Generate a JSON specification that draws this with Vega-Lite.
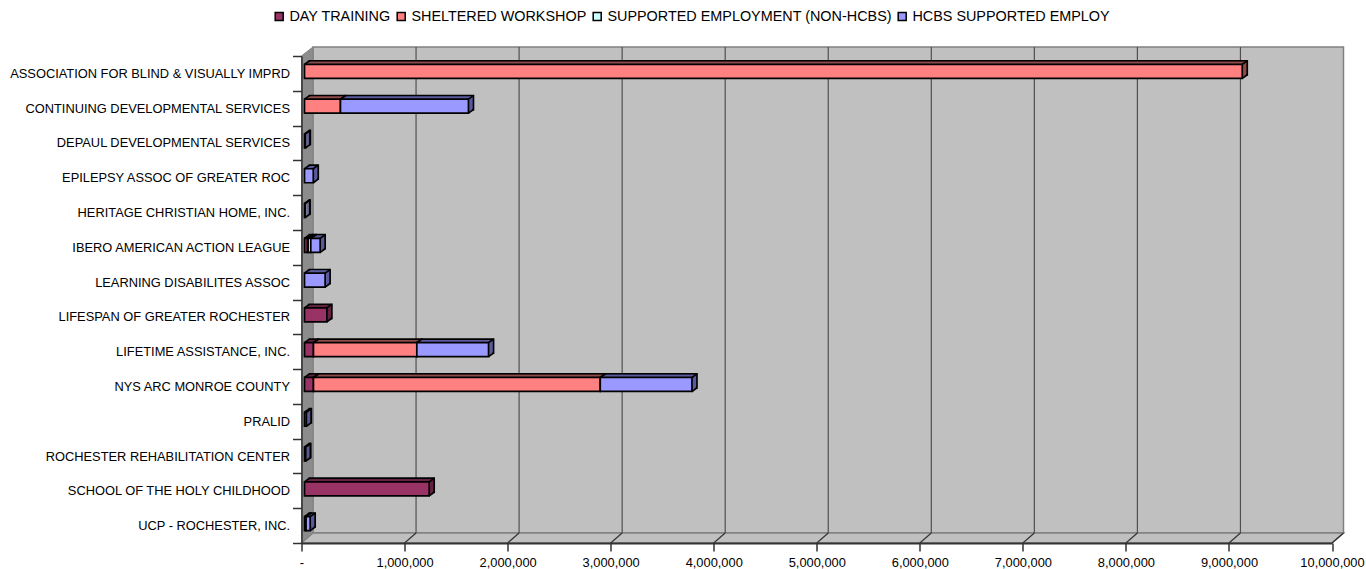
{
"$schema":"https://vega.github.io/schema/vega-lite/v6.json",
"width":1030.5,"height":487,
"autosize":"none",
"padding":{"left":301.5,"top":56,"right":34,"bottom":26},
"background":"white",
"config":{"view":{"stroke":null},"text":{"font":"Liberation Sans"}},
"data":{"values":[
{"name":"ASSOCIATION FOR BLIND & VISUALLY IMPRD","series":"SHELTERED WORKSHOP","rank":2,"value":9100000},
{"name":"CONTINUING DEVELOPMENTAL SERVICES","series":"SHELTERED WORKSHOP","rank":2,"value":349000},
{"name":"CONTINUING DEVELOPMENTAL SERVICES","series":"HCBS SUPPORTED EMPLOY","rank":4,"value":1242000},
{"name":"DEPAUL DEVELOPMENTAL SERVICES","series":"HCBS SUPPORTED EMPLOY","rank":4,"value":8000},
{"name":"EPILEPSY ASSOC OF GREATER ROC","series":"HCBS SUPPORTED EMPLOY","rank":4,"value":85000},
{"name":"HERITAGE CHRISTIAN HOME, INC.","series":"HCBS SUPPORTED EMPLOY","rank":4,"value":6000},
{"name":"IBERO AMERICAN ACTION LEAGUE","series":"DAY TRAINING","rank":1,"value":30000},
{"name":"IBERO AMERICAN ACTION LEAGUE","series":"SHELTERED WORKSHOP","rank":2,"value":6000},
{"name":"IBERO AMERICAN ACTION LEAGUE","series":"SUPPORTED EMPLOYMENT (NON-HCBS)","rank":3,"value":25000},
{"name":"IBERO AMERICAN ACTION LEAGUE","series":"HCBS SUPPORTED EMPLOY","rank":4,"value":91000},
{"name":"LEARNING DISABILITES ASSOC","series":"HCBS SUPPORTED EMPLOY","rank":4,"value":200000},
{"name":"LIFESPAN OF GREATER ROCHESTER","series":"DAY TRAINING","rank":1,"value":217000},
{"name":"LIFETIME ASSISTANCE, INC.","series":"DAY TRAINING","rank":1,"value":87000},
{"name":"LIFETIME ASSISTANCE, INC.","series":"SHELTERED WORKSHOP","rank":2,"value":1003000},
{"name":"LIFETIME ASSISTANCE, INC.","series":"HCBS SUPPORTED EMPLOY","rank":4,"value":696000},
{"name":"NYS ARC MONROE COUNTY","series":"DAY TRAINING","rank":1,"value":87000},
{"name":"NYS ARC MONROE COUNTY","series":"SHELTERED WORKSHOP","rank":2,"value":2783000},
{"name":"NYS ARC MONROE COUNTY","series":"HCBS SUPPORTED EMPLOY","rank":4,"value":890000},
{"name":"PRALID","series":"HCBS SUPPORTED EMPLOY","rank":4,"value":18000},
{"name":"ROCHESTER REHABILITATION CENTER","series":"HCBS SUPPORTED EMPLOY","rank":4,"value":12000},
{"name":"SCHOOL OF THE HOLY CHILDHOOD","series":"DAY TRAINING","rank":1,"value":1210000},
{"name":"UCP - ROCHESTER, INC.","series":"SUPPORTED EMPLOYMENT (NON-HCBS)","rank":3,"value":15000},
{"name":"UCP - ROCHESTER, INC.","series":"HCBS SUPPORTED EMPLOY","rank":4,"value":40000}
]},
"transform":[{"stack":"value","groupby":["name"],"sort":[{"field":"rank","order":"ascending"}],"as":["x0","x1"]}],
"encoding":{
"y":{"field":"name","type":"nominal","sort":null,"title":null,
"scale":{"type":"band","paddingInner":0,"paddingOuter":0,"domain":["ASSOCIATION FOR BLIND & VISUALLY IMPRD","CONTINUING DEVELOPMENTAL SERVICES","DEPAUL DEVELOPMENTAL SERVICES","EPILEPSY ASSOC OF GREATER ROC","HERITAGE CHRISTIAN HOME, INC.","IBERO AMERICAN ACTION LEAGUE","LEARNING DISABILITES ASSOC","LIFESPAN OF GREATER ROCHESTER","LIFETIME ASSISTANCE, INC.","NYS ARC MONROE COUNTY","PRALID","ROCHESTER REHABILITATION CENTER","SCHOOL OF THE HOLY CHILDHOOD","UCP - ROCHESTER, INC."]},
"axis":{"zindex":1,"tickBand":"extent","tickSize":9,"tickColor":"#333333","tickWidth":1.5,"domainColor":"#333333","domainWidth":1.5,"labelFont":"Liberation Sans","labelFontSize":12.85,"labelColor":"#000000","labelPadding":3,"labelLimit":320}},
"x":{"field":"x0","type":"quantitative","title":null,
"scale":{"domain":[0,10000000],"nice":false,"zero":false},
"axis":{"zindex":1,"values":[0,1000000,2000000,3000000,4000000,5000000,6000000,7000000,8000000,9000000,10000000],"grid":false,"tickSize":8,"tickColor":"#333333","tickWidth":1.5,"domainColor":"#333333","domainWidth":2,"labelFont":"Liberation Sans","labelFontSize":12.85,"labelColor":"#000000","labelPadding":5,"labelFlush":false,"labelOverlap":false,"labelExpr":"datum.value==0?'-':format(datum.value,',')"}},
"x2":{"field":"x1"}
},
"resolve":{"scale":{"fill":"independent"},"legend":{"color":"independent","fill":"independent"}},
"layer":[
{"data":{"values":[{"v":0,"c":"UCP - ROCHESTER, INC."}]},"mark":{"type":"point","shape":"M11.5,7.35L11.5,-478.65L1042,-478.65L1042,7.35Z","size":4,"filled":true,"fill":"#c0c0c0","stroke":"#808080","strokeWidth":1.5,"opacity":1},
"encoding":{"x":{"field":"v","type":"quantitative"},"x2":null,"y":{"field":"c","type":"nominal"}}},
{"data":{"values":[{"v":0,"c":"UCP - ROCHESTER, INC."}]},"mark":{"type":"point","shape":"M0,17.35L1030.5,17.35L1042,7.35L11.5,7.35Z","size":4,"filled":true,"fill":"#c0c0c0","stroke":"#808080","strokeWidth":1.5,"opacity":1},
"encoding":{"x":{"field":"v","type":"quantitative"},"x2":null,"y":{"field":"c","type":"nominal"}}},
{"data":{"values":[{"v":1000000,"c":"UCP - ROCHESTER, INC."},{"v":2000000,"c":"UCP - ROCHESTER, INC."},{"v":3000000,"c":"UCP - ROCHESTER, INC."},{"v":4000000,"c":"UCP - ROCHESTER, INC."},{"v":5000000,"c":"UCP - ROCHESTER, INC."},{"v":6000000,"c":"UCP - ROCHESTER, INC."},{"v":7000000,"c":"UCP - ROCHESTER, INC."},{"v":8000000,"c":"UCP - ROCHESTER, INC."},{"v":9000000,"c":"UCP - ROCHESTER, INC."}]},"mark":{"type":"point","shape":"M11.5,7.35L11.5,-478.65","size":4,"filled":false,"stroke":"#505050","strokeWidth":1.2,"opacity":1},
"encoding":{"x":{"field":"v","type":"quantitative"},"x2":null,"y":{"field":"c","type":"nominal"}}},
{"data":{"values":[{"v":1000000,"c":"UCP - ROCHESTER, INC."},{"v":2000000,"c":"UCP - ROCHESTER, INC."},{"v":3000000,"c":"UCP - ROCHESTER, INC."},{"v":4000000,"c":"UCP - ROCHESTER, INC."},{"v":5000000,"c":"UCP - ROCHESTER, INC."},{"v":6000000,"c":"UCP - ROCHESTER, INC."},{"v":7000000,"c":"UCP - ROCHESTER, INC."},{"v":8000000,"c":"UCP - ROCHESTER, INC."},{"v":9000000,"c":"UCP - ROCHESTER, INC."},{"v":10000000,"c":"UCP - ROCHESTER, INC."}]},"mark":{"type":"point","shape":"M0,17.35L11.5,7.35","size":4,"filled":false,"stroke":"#333333","strokeWidth":1.2,"opacity":1},
"encoding":{"x":{"field":"v","type":"quantitative"},"x2":null,"y":{"field":"c","type":"nominal"}}},
{"data":{"values":[{"v":0,"c":"UCP - ROCHESTER, INC."}]},"mark":{"type":"point","shape":"M0,17.35L11.5,7.35L11.5,-478.65L0,-469.65Z","size":4,"filled":true,"fill":"#8c8c8c","stroke":"#808080","strokeWidth":1,"opacity":1},
"encoding":{"x":{"field":"v","type":"quantitative"},"x2":null,"y":{"field":"c","type":"nominal"}}},
{"mark":{"type":"bar","height":14,"xOffset":8,"x2Offset":8,"yOffset":-5.6,"stroke":"#000000","strokeWidth":1.7,"fill":"#662244"},"transform":[{"filter":"datum.rank==1"}]},
{"mark":{"type":"bar","height":14,"xOffset":8,"x2Offset":8,"yOffset":-5.6,"stroke":"#000000","strokeWidth":1.7,"fill":"#8f4a4a"},"transform":[{"filter":"datum.rank==2"}]},
{"mark":{"type":"bar","height":14,"xOffset":8,"x2Offset":8,"yOffset":-5.6,"stroke":"#000000","strokeWidth":1.7,"fill":"#88aaaa"},"transform":[{"filter":"datum.rank==3"}]},
{"mark":{"type":"bar","height":14,"xOffset":8,"x2Offset":8,"yOffset":-5.6,"stroke":"#000000","strokeWidth":1.7,"fill":"#5a5a9c"},"transform":[{"filter":"datum.rank==4"}]},
{"mark":{"type":"bar","height":14,"xOffset":6.75,"x2Offset":6.75,"yOffset":-4.7,"fill":"#662244"},"transform":[{"filter":"datum.rank==1"}]},
{"mark":{"type":"bar","height":14,"xOffset":6.75,"x2Offset":6.75,"yOffset":-4.7,"fill":"#8f4a4a"},"transform":[{"filter":"datum.rank==2"}]},
{"mark":{"type":"bar","height":14,"xOffset":6.75,"x2Offset":6.75,"yOffset":-4.7,"fill":"#88aaaa"},"transform":[{"filter":"datum.rank==3"}]},
{"mark":{"type":"bar","height":14,"xOffset":6.75,"x2Offset":6.75,"yOffset":-4.7,"fill":"#5a5a9c"},"transform":[{"filter":"datum.rank==4"}]},
{"mark":{"type":"bar","height":14,"xOffset":5.5,"x2Offset":5.5,"yOffset":-3.8,"fill":"#662244"},"transform":[{"filter":"datum.rank==1"}]},
{"mark":{"type":"bar","height":14,"xOffset":5.5,"x2Offset":5.5,"yOffset":-3.8,"fill":"#8f4a4a"},"transform":[{"filter":"datum.rank==2"}]},
{"mark":{"type":"bar","height":14,"xOffset":5.5,"x2Offset":5.5,"yOffset":-3.8,"fill":"#88aaaa"},"transform":[{"filter":"datum.rank==3"}]},
{"mark":{"type":"bar","height":14,"xOffset":5.5,"x2Offset":5.5,"yOffset":-3.8,"fill":"#5a5a9c"},"transform":[{"filter":"datum.rank==4"}]},
{"mark":{"type":"bar","height":14,"xOffset":4.25,"x2Offset":4.25,"yOffset":-2.9,"fill":"#662244"},"transform":[{"filter":"datum.rank==1"}]},
{"mark":{"type":"bar","height":14,"xOffset":4.25,"x2Offset":4.25,"yOffset":-2.9,"fill":"#8f4a4a"},"transform":[{"filter":"datum.rank==2"}]},
{"mark":{"type":"bar","height":14,"xOffset":4.25,"x2Offset":4.25,"yOffset":-2.9,"fill":"#88aaaa"},"transform":[{"filter":"datum.rank==3"}]},
{"mark":{"type":"bar","height":14,"xOffset":4.25,"x2Offset":4.25,"yOffset":-2.9,"fill":"#5a5a9c"},"transform":[{"filter":"datum.rank==4"}]},
{"mark":{"type":"point","shape":"M3,5L8,1.4","size":4,"filled":false,"stroke":"#000000","strokeWidth":1.7,"opacity":1},"encoding":{"x":{"field":"x1","type":"quantitative"},"x2":null}},
{"mark":{"type":"bar","height":14,"xOffset":3,"x2Offset":3,"yOffset":-2,"stroke":"#000000","strokeWidth":1.7},
"encoding":{"color":{"field":"series","type":"nominal","title":null,
"scale":{"domain":["DAY TRAINING","SHELTERED WORKSHOP","SUPPORTED EMPLOYMENT (NON-HCBS)","HCBS SUPPORTED EMPLOY"],"range":["#993366","#ff8080","#ccffff","#9999ff"]},
"legend":{"orient":"none","legendX":-29.5,"legendY":-47,"direction":"horizontal","columns":4,"symbolType":"square","symbolSize":64,"labelFont":"Liberation Sans","labelFontSize":14.4,"labelColor":"#000000","labelOffset":3,"columnPadding":3,"labelLimit":320}}}},
{"mark":{"type":"point","shape":"M3,-9L8,-12.6","size":4,"filled":false,"stroke":"#000000","strokeWidth":1.7,"opacity":1},"encoding":{"x":{"field":"x0","type":"quantitative"},"x2":null}},
{"mark":{"type":"point","shape":"M3,-9L8,-12.6","size":4,"filled":false,"stroke":"#000000","strokeWidth":1.7,"opacity":1},"encoding":{"x":{"field":"x1","type":"quantitative"},"x2":null}}
]
}
